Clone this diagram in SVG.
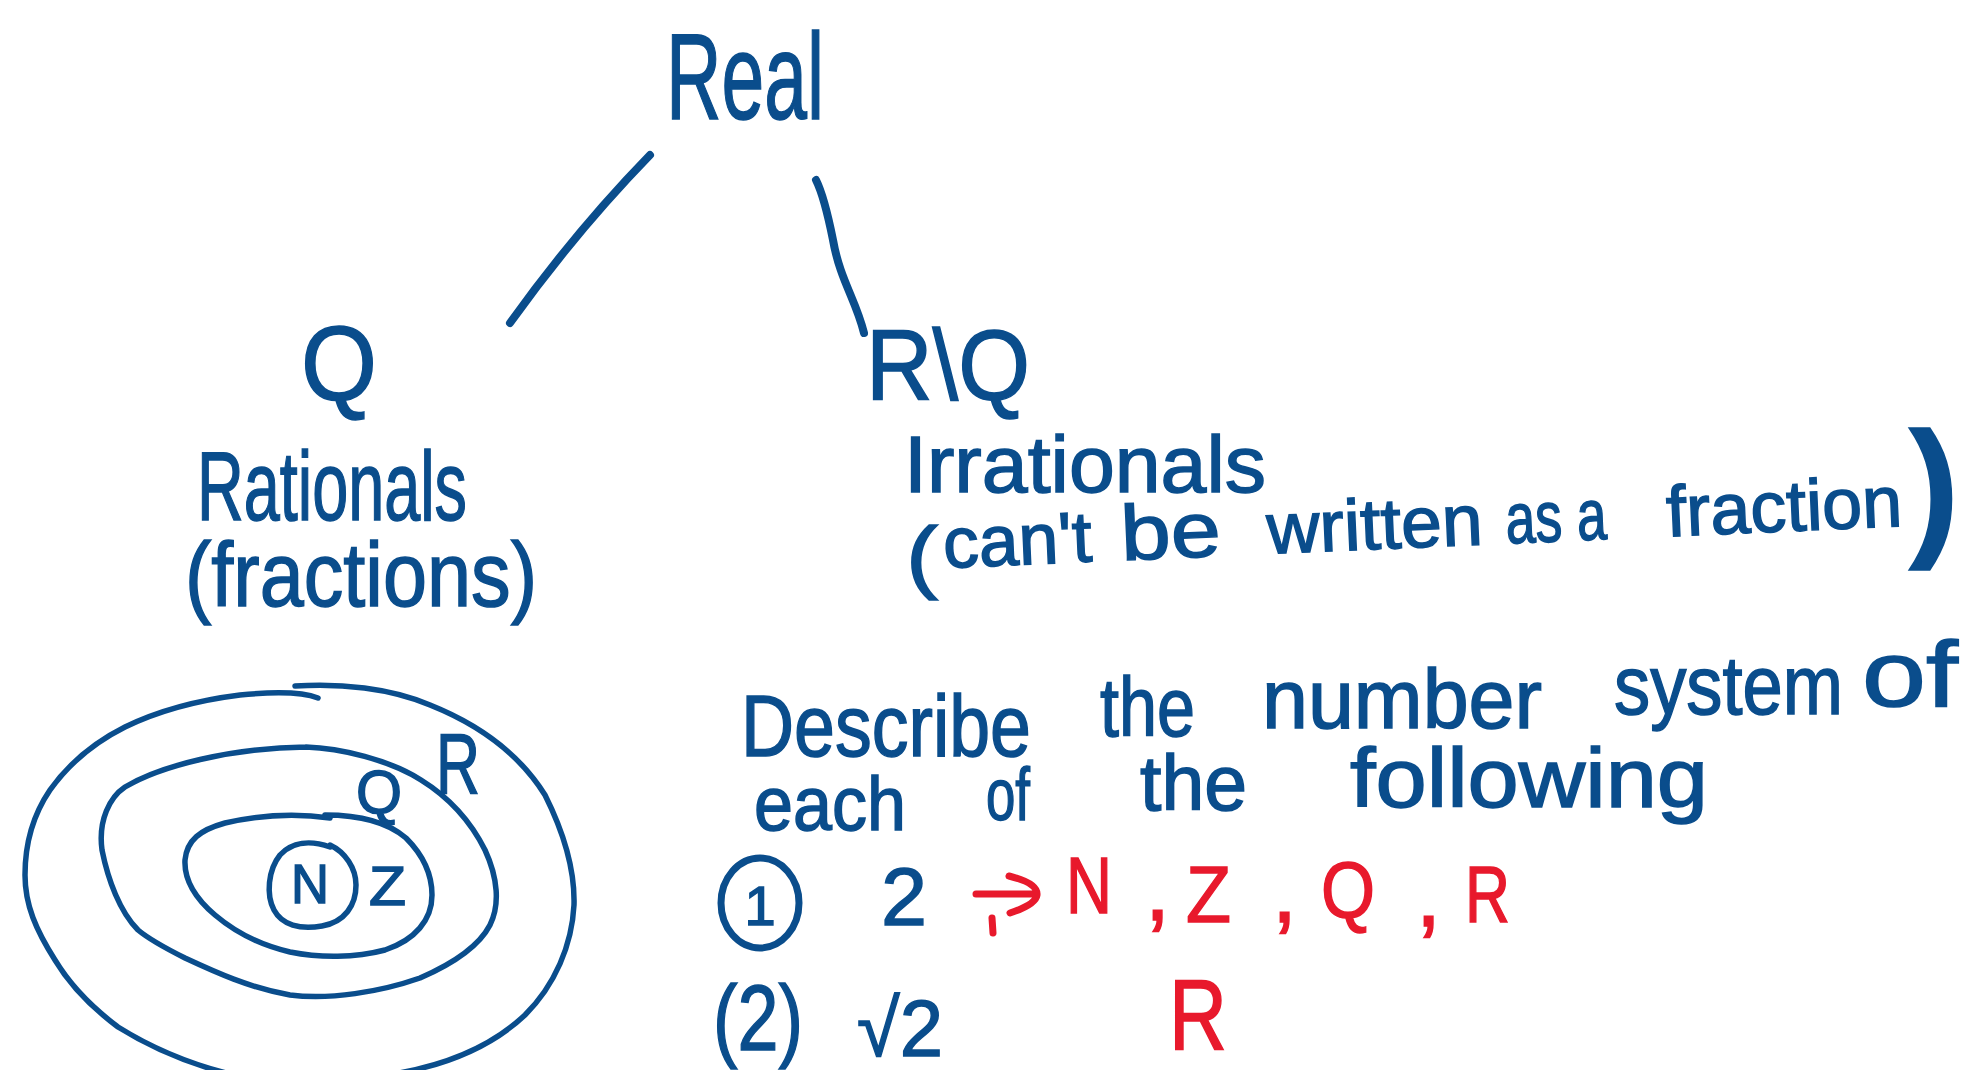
<svg xmlns="http://www.w3.org/2000/svg" width="1969" height="1070" viewBox="0 0 1969 1070">
<style>
.b{fill:#0a4d8c;stroke:#0a4d8c;stroke-width:1.5;font-family:"Liberation Sans","DejaVu Sans",sans-serif}
.r{fill:#e8192c;stroke:#e8192c;stroke-width:1.5;font-family:"Liberation Sans","DejaVu Sans",sans-serif}
.ln{fill:none;stroke:#0a4d8c;stroke-width:8;stroke-linecap:round;stroke-linejoin:round}
.ov{fill:none;stroke:#0a4d8c;stroke-width:5.5;stroke-linecap:round;stroke-linejoin:round}
.ra{fill:none;stroke:#e8192c;stroke-width:7;stroke-linecap:round;stroke-linejoin:round}
</style>
<rect width="1969" height="1070" fill="#ffffff"/>

<g id="connectors">
<path class="ln" d="M650,155 Q576,231 510,323"/>
<path class="ln" d="M816,180 C822,192 828,215 833,240 C840,280 856,300 864,333"/>
</g>

<g id="node-real">
<text class="b" x="666" y="119" font-size="123" textLength="158" lengthAdjust="spacingAndGlyphs">Real</text>
</g>

<g id="node-rationals">
<text class="b" x="301" y="400" font-size="106" textLength="76" lengthAdjust="spacingAndGlyphs">Q</text>
<text class="b" x="197" y="520" font-size="98" textLength="270" lengthAdjust="spacingAndGlyphs">Rationals</text>
<text class="b" x="185" y="606" font-size="90" textLength="352" lengthAdjust="spacingAndGlyphs">(fractions)</text>
</g>

<g id="node-irrationals">
<text class="b" x="866" y="400" font-size="100" textLength="164" lengthAdjust="spacingAndGlyphs">R\Q</text>
<text class="b" x="904" y="492" font-size="80" textLength="362" lengthAdjust="spacingAndGlyphs">Irrationals</text>
<text class="b" x="906" y="583" font-size="80" textLength="32" lengthAdjust="spacingAndGlyphs" stroke-width="4">(</text>
<g transform="rotate(-2.5 944 568)">
<text class="b" x="944" y="568" font-size="72" textLength="149" lengthAdjust="spacingAndGlyphs">can't</text>
<text class="b" x="1122" y="568" font-size="78" textLength="100" lengthAdjust="spacingAndGlyphs">be</text>
<text class="b" x="1268" y="568" font-size="72" textLength="216" lengthAdjust="spacingAndGlyphs">written</text>
<text class="b" x="1507" y="568" font-size="72" textLength="101" lengthAdjust="spacingAndGlyphs">as a</text>
<text class="b" x="1668" y="568" font-size="72" textLength="236" lengthAdjust="spacingAndGlyphs">fraction</text>
</g>
<text class="b" x="1909" y="538" font-size="153" font-weight="bold" textLength="50" lengthAdjust="spacingAndGlyphs">)</text>
</g>

<g id="venn">
<path class="ov" d="M230,1074 C190,1064 150,1047 118,1027 C90,1006 70,985 55,960 C36,930 25,905 25,875 C25,840 35,812 50,790 C70,762 95,742 125,727 C160,710 200,700 240,695 C270,692 300,691 318,698"/>
<path class="ov" d="M295,686 C340,683 390,688 430,705 C480,725 520,755 545,795 C565,835 575,870 574,905 C572,945 555,985 525,1015 C490,1048 440,1068 380,1076"/>
<path class="ov" d="M306,747 C340,748 390,760 421,780 C450,798 470,820 485,850 C498,878 500,905 490,925 C478,948 450,965 420,978 C380,992 330,1000 290,995 C250,988 215,972 185,958 C165,948 150,940 138,930 C120,912 108,880 102,850 C98,820 110,797 125,787 C160,766 230,748 306,747"/>
<path class="ov" d="M325,815 C355,815 385,820 406,838 C420,852 432,870 432,895 C432,920 415,940 385,950 C355,958 320,958 290,952 C260,945 235,932 215,915 C195,898 184,880 185,860 C187,840 200,830 225,823 C260,815 295,813 330,818"/>
<path class="ov" d="M330,845 C345,852 356,868 356,885 C356,905 345,922 322,926 C300,930 282,925 274,910 C266,895 268,870 280,855 C292,842 310,840 330,847"/>
<text class="b" x="291" y="903" font-size="56" textLength="38" lengthAdjust="spacingAndGlyphs">N</text>
<text class="b" x="369" y="905" font-size="56" textLength="37" lengthAdjust="spacingAndGlyphs">Z</text>
<text class="b" x="356" y="813" font-size="62" textLength="46" lengthAdjust="spacingAndGlyphs">Q</text>
<text class="b" x="436" y="793" font-size="86" textLength="44" lengthAdjust="spacingAndGlyphs">R</text>
</g>

<g id="question">
<text class="b" x="741" y="756" font-size="88" textLength="290" lengthAdjust="spacingAndGlyphs">Describe</text>
<text class="b" x="1100" y="736" font-size="84" textLength="95" lengthAdjust="spacingAndGlyphs">the</text>
<text class="b" x="1262" y="728" font-size="84" textLength="280" lengthAdjust="spacingAndGlyphs">number</text>
<text class="b" x="1614" y="714" font-size="84" textLength="229" lengthAdjust="spacingAndGlyphs">system</text>
<text class="b" x="1862" y="706" font-size="92" textLength="96" lengthAdjust="spacingAndGlyphs">of</text>
<text class="b" x="754" y="830" font-size="76" textLength="152" lengthAdjust="spacingAndGlyphs">each</text>
<text class="b" x="986" y="820" font-size="74" textLength="44" lengthAdjust="spacingAndGlyphs">of</text>
<text class="b" x="1140" y="810" font-size="78" textLength="107" lengthAdjust="spacingAndGlyphs">the</text>
<text class="b" x="1350" y="807" font-size="84" textLength="358" lengthAdjust="spacingAndGlyphs">following</text>
</g>

<g id="item-1">
<ellipse cx="760" cy="903" rx="39" ry="45" fill="none" stroke="#0a4d8c" stroke-width="7"/>
<text class="b" x="760" y="925" font-size="56" text-anchor="middle">1</text>
<text class="b" x="881" y="925" font-size="82" textLength="46" lengthAdjust="spacingAndGlyphs">2</text>
<path class="ra" d="M976,894 L1032,894 M1009,876 C1025,880 1038,886 1037,895 C1036,903 1022,909 1010,913 M992,918 L993,933"/>
<text class="r" x="1066" y="913" font-size="80" textLength="46" lengthAdjust="spacingAndGlyphs">N</text>
<text class="r" x="1145" y="920" font-size="90">,</text>
<text class="r" x="1186" y="922" font-size="80" textLength="45" lengthAdjust="spacingAndGlyphs">Z</text>
<text class="r" x="1272" y="922" font-size="90">,</text>
<text class="r" x="1321" y="918" font-size="80" textLength="54" lengthAdjust="spacingAndGlyphs">Q</text>
<text class="r" x="1416" y="926" font-size="90">,</text>
<text class="r" x="1465" y="922" font-size="80" textLength="45" lengthAdjust="spacingAndGlyphs">R</text>
</g>

<g id="item-2">
<text class="b" x="713" y="1050" font-size="92" textLength="90" lengthAdjust="spacingAndGlyphs">(2)</text>
<text class="b" x="857" y="1056" font-size="80" textLength="86" lengthAdjust="spacingAndGlyphs" font-family="DejaVu Sans,sans-serif">√2</text>
<text class="r" x="1169" y="1050" font-size="100" textLength="58" lengthAdjust="spacingAndGlyphs">R</text>
</g>
</svg>
